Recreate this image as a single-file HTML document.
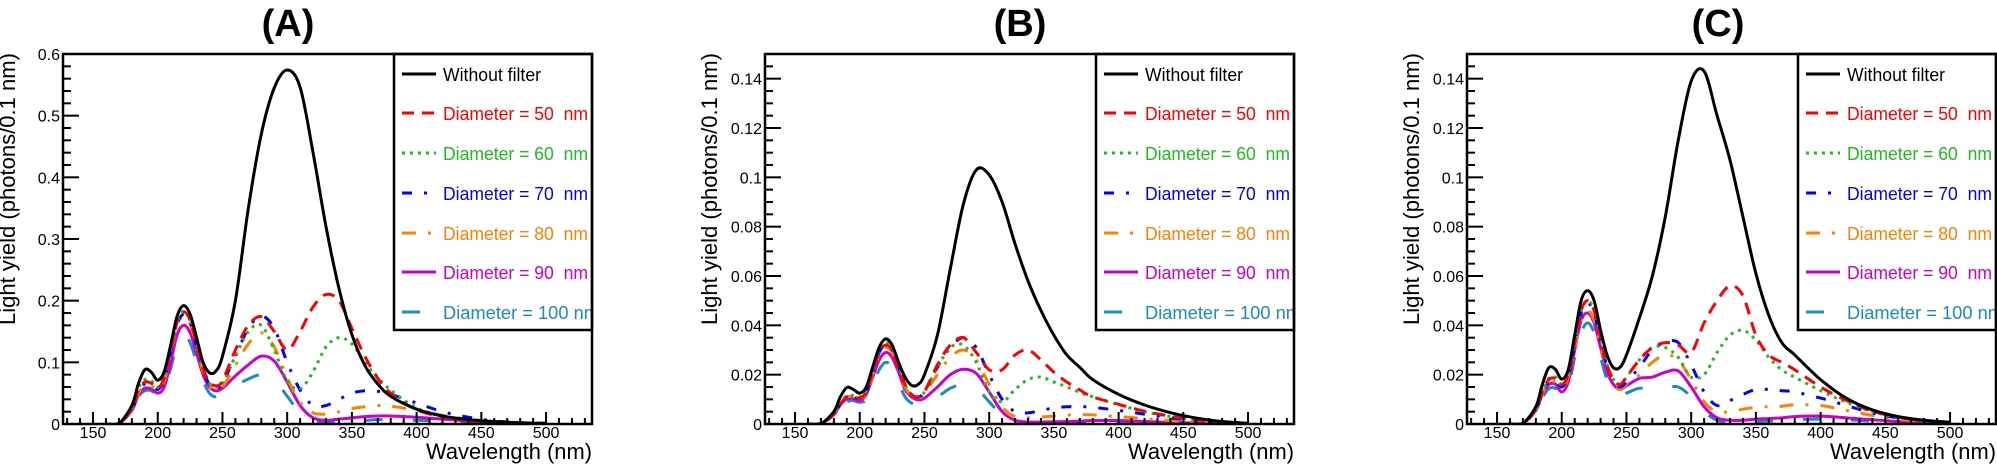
<!DOCTYPE html>
<html><head><meta charset="utf-8"><style>
html,body{margin:0;padding:0;background:#fff;}
svg{display:block;}
text{font-family:"Liberation Sans",Arial,sans-serif;white-space:pre;}
</style></head>
<body>
<svg id="chart" width="1997" height="464" viewBox="0 0 1997 464" xmlns="http://www.w3.org/2000/svg"></svg>
<script>
// ---- data ----
const wavelengths = [160,170,180,185,190,195,200,205,210,215,220,225,230,235,240,245,250,260,270,280,290,300,310,320,330,340,350,360,370,380,400,420,440,460,480,500];
const seriesNames = ["Without filter","Diameter = 50  nm","Diameter = 60  nm","Diameter = 70  nm","Diameter = 80  nm","Diameter = 90  nm","Diameter = 100 nm"];
const panelTitles = ["(A)","(B)","(C)"];
const yMaxes = [0.6, 0.15, 0.15];
const yTickLabelsA = ["0","0.1","0.2","0.3","0.4","0.5","0.6"];
const yTickLabelsBC = ["0","0.02","0.04","0.06","0.08","0.1","0.12","0.14"];
const xTickLabels = ["150","200","250","300","350","400","450","500"];

const panelA_noFilter = [0,0.001,0.03,0.065,0.088,0.084,0.071,0.085,0.128,0.175,0.192,0.178,0.14,0.1,0.083,0.086,0.11,0.2,0.35,0.47,0.545,0.574,0.546,0.44,0.32,0.22,0.145,0.095,0.065,0.045,0.024,0.013,0.007,0.004,0.002,0.001];
const panelA_d50 = [0,0.001,0.025,0.055,0.068,0.066,0.058,0.075,0.12,0.165,0.182,0.168,0.13,0.09,0.068,0.062,0.07,0.12,0.16,0.174,0.15,0.12,0.15,0.19,0.21,0.2,0.155,0.11,0.074,0.05,0.023,0.012,0.0065,0.0035,0.0018,0.001];
const panelA_d60 = [0,0.001,0.026,0.058,0.072,0.07,0.06,0.076,0.12,0.165,0.183,0.168,0.13,0.09,0.066,0.06,0.066,0.11,0.15,0.16,0.12,0.07,0.057,0.085,0.125,0.14,0.13,0.1,0.075,0.055,0.026,0.013,0.007,0.0035,0.0018,0.001];
const panelA_d70 = [0,0.001,0.024,0.052,0.065,0.064,0.056,0.072,0.117,0.162,0.178,0.165,0.127,0.088,0.064,0.058,0.066,0.11,0.155,0.175,0.155,0.1,0.055,0.03,0.03,0.04,0.05,0.054,0.053,0.048,0.034,0.02,0.011,0.005,0.002,0.001];
const panelA_d80 = [0,0.001,0.023,0.05,0.062,0.062,0.055,0.07,0.115,0.16,0.175,0.162,0.125,0.086,0.062,0.056,0.06,0.095,0.13,0.148,0.125,0.075,0.035,0.018,0.016,0.02,0.025,0.028,0.03,0.029,0.022,0.014,0.008,0.004,0.002,0.001];
const panelA_d90 = [0,0.001,0.022,0.047,0.058,0.057,0.05,0.06,0.1,0.145,0.16,0.148,0.115,0.08,0.06,0.054,0.058,0.078,0.096,0.11,0.102,0.068,0.03,0.01,0.006,0.008,0.01,0.012,0.013,0.013,0.011,0.008,0.005,0.003,0.001,0.0005];
const panelA_d100 = [0,0.001,0.02,0.044,0.054,0.054,0.047,0.055,0.09,0.13,0.143,0.132,0.1,0.07,0.05,0.044,0.05,0.062,0.073,0.08,0.072,0.045,0.018,0.005,0.003,0.004,0.005,0.006,0.007,0.007,0.006,0.005,0.003,0.002,0.001,0.0005];

const panelB_noFilter = [0,0.0002,0.005,0.011,0.0148,0.014,0.0125,0.015,0.023,0.031,0.0345,0.032,0.025,0.019,0.0157,0.016,0.02,0.036,0.063,0.089,0.103,0.101,0.09,0.073,0.058,0.046,0.036,0.028,0.023,0.018,0.012,0.0077,0.0046,0.0024,0.001,0.0003];
const panelB_d50 = [0,0.0002,0.004,0.008,0.011,0.011,0.0105,0.013,0.021,0.029,0.032,0.03,0.023,0.016,0.012,0.011,0.013,0.024,0.032,0.035,0.029,0.022,0.022,0.028,0.03,0.026,0.021,0.017,0.0138,0.011,0.008,0.0052,0.0032,0.0017,0.0008,0.0002];
const panelB_d60 = [0,0.0002,0.004,0.0085,0.0115,0.0115,0.011,0.0135,0.022,0.03,0.033,0.031,0.024,0.016,0.012,0.011,0.013,0.023,0.031,0.032,0.025,0.013,0.009,0.014,0.018,0.019,0.017,0.015,0.0128,0.011,0.0078,0.005,0.003,0.0016,0.0007,0.0002];
const panelB_d70 = [0,0.0002,0.004,0.008,0.011,0.011,0.0102,0.0128,0.021,0.029,0.032,0.03,0.023,0.016,0.012,0.011,0.013,0.023,0.031,0.035,0.031,0.02,0.01,0.005,0.0045,0.0055,0.0065,0.007,0.007,0.0068,0.0055,0.004,0.0025,0.0013,0.0006,0.0002];
const panelB_d80 = [0,0.0002,0.004,0.008,0.011,0.011,0.0102,0.0125,0.02,0.028,0.031,0.029,0.022,0.015,0.0115,0.0105,0.0122,0.02,0.027,0.03,0.026,0.016,0.007,0.003,0.0025,0.0028,0.0032,0.0036,0.0038,0.0037,0.003,0.0022,0.0014,0.0008,0.0004,0.0001];
const panelB_d90 = [0,0.0002,0.0038,0.0078,0.0102,0.0102,0.0095,0.012,0.019,0.026,0.029,0.027,0.021,0.014,0.011,0.0098,0.0105,0.015,0.02,0.0222,0.0205,0.013,0.005,0.0015,0.0008,0.0008,0.0009,0.001,0.0012,0.0014,0.0014,0.001,0.0007,0.0004,0.0002,0.0001];
const panelB_d100 = [0,0.0002,0.0035,0.0072,0.009,0.0095,0.0088,0.01,0.016,0.022,0.025,0.023,0.017,0.011,0.0085,0.008,0.0088,0.011,0.0145,0.016,0.0145,0.009,0.0035,0.001,0.0005,0.0005,0.0006,0.0006,0.0007,0.0008,0.0008,0.0007,0.0005,0.0003,0.0002,0.0001];

const panelC_noFilter = [0,0.0003,0.007,0.016,0.0228,0.0222,0.0182,0.022,0.036,0.05,0.054,0.05,0.038,0.028,0.0228,0.023,0.028,0.043,0.06,0.084,0.115,0.139,0.143,0.125,0.107,0.084,0.061,0.044,0.033,0.028,0.018,0.0104,0.0057,0.003,0.0015,0.0007];
const panelC_d50 = [0,0.0003,0.006,0.013,0.018,0.0185,0.016,0.02,0.033,0.046,0.05,0.046,0.035,0.024,0.018,0.016,0.019,0.026,0.031,0.033,0.032,0.029,0.041,0.05,0.056,0.052,0.036,0.028,0.025,0.022,0.015,0.0095,0.0052,0.0028,0.0014,0.0006];
const panelC_d60 = [0,0.0003,0.006,0.013,0.0185,0.019,0.016,0.02,0.033,0.046,0.05,0.046,0.035,0.024,0.018,0.016,0.019,0.026,0.031,0.031,0.027,0.019,0.02,0.029,0.036,0.038,0.034,0.027,0.022,0.019,0.0135,0.0088,0.005,0.0026,0.0013,0.0006];
const panelC_d70 = [0,0.0003,0.0058,0.0125,0.017,0.0175,0.015,0.0195,0.032,0.045,0.049,0.045,0.034,0.023,0.017,0.015,0.017,0.023,0.03,0.033,0.033,0.024,0.013,0.0075,0.0095,0.012,0.014,0.014,0.0135,0.013,0.0105,0.0075,0.0045,0.0024,0.0012,0.0005];
const panelC_d80 = [0,0.0003,0.0057,0.0122,0.017,0.017,0.0145,0.019,0.031,0.042,0.046,0.042,0.032,0.022,0.016,0.014,0.016,0.02,0.025,0.028,0.026,0.018,0.009,0.005,0.005,0.006,0.0068,0.007,0.0072,0.0078,0.0075,0.0055,0.0035,0.002,0.001,0.0004];
const panelC_d90 = [0,0.0003,0.0055,0.012,0.016,0.0162,0.013,0.017,0.03,0.042,0.045,0.041,0.031,0.021,0.016,0.014,0.0155,0.0185,0.019,0.021,0.0215,0.015,0.007,0.0025,0.0015,0.0015,0.002,0.0022,0.0025,0.003,0.0032,0.0025,0.0017,0.001,0.0005,0.0002];
const panelC_d100 = [0,0.0003,0.005,0.0105,0.0143,0.0145,0.012,0.015,0.027,0.037,0.041,0.037,0.027,0.018,0.013,0.0115,0.0125,0.0145,0.0138,0.0145,0.015,0.011,0.005,0.0015,0.0008,0.0008,0.001,0.0012,0.0015,0.0018,0.002,0.0017,0.0012,0.0007,0.0004,0.0002];

const panelSeries = [
  [panelA_noFilter,panelA_d50,panelA_d60,panelA_d70,panelA_d80,panelA_d90,panelA_d100],
  [panelB_noFilter,panelB_d50,panelB_d60,panelB_d70,panelB_d80,panelB_d90,panelB_d100],
  [panelC_noFilter,panelC_d50,panelC_d60,panelC_d70,panelC_d80,panelC_d90,panelC_d100]
];

// ---- styles / layout ----
const colors = ["#000000","#ff0000","#1fbb1f","#0000ff","#ff8000","#cc00cc","#1a8cc0"];
const dashes = ["none","12,8","3,5","10,12,3,12","14,12,3,12","none","18,30"];
const seriesKeys = ["without-filter","diameter-50","diameter-60","diameter-70","diameter-80","diameter-90","diameter-100"];
const panelLefts = [63,765,1467];
const titleOffsets = [225,255,251];
const TOP = 54, W = 529, H = 370, XMIN = 126.8, XMAX = 535.5;
const NS = "http://www.w3.org/2000/svg";
const svg = document.getElementById('chart');

function mk(tag, attrs, parent){
  const e = document.createElementNS(NS, tag);
  for (const k in attrs) e.setAttribute(k, attrs[k]);
  (parent||svg).appendChild(e);
  return e;
}
function smoothPath(pts){
  let d = "M"+pts[0][0].toFixed(2)+","+pts[0][1].toFixed(2);
  for (let i=0;i<pts.length-1;i++){
    const p0=pts[i-1]||pts[i], p1=pts[i], p2=pts[i+1], p3=pts[i+2]||pts[i+1];
    const c1x=p1[0]+(p2[0]-p0[0])/6, c1y=p1[1]+(p2[1]-p0[1])/6;
    const c2x=p2[0]-(p3[0]-p1[0])/6, c2y=p2[1]-(p3[1]-p1[1])/6;
    d += " C"+c1x.toFixed(2)+","+c1y.toFixed(2)+" "+c2x.toFixed(2)+","+c2y.toFixed(2)+" "+p2[0].toFixed(2)+","+p2[1].toFixed(2);
  }
  return d;
}

panelTitles.forEach((title, p) => {
  const L = panelLefts[p], ymax = yMaxes[p];
  const xs = nm => L + (nm - XMIN) / (XMAX - XMIN) * W;
  const ys = v => TOP + H - (v / ymax) * H;
  const g = mk('g', {});
  
  

  const t = mk('text', {x: L + titleOffsets[p], y: 36, 'text-anchor': 'middle', 'font-size': 38, 'font-weight': 'bold'}, g);
  
  
  t.textContent = title;

  const cp = mk('clipPath', {id: 'clip' + p}, g);
  mk('rect', {x: L, y: TOP - 5, width: W, height: H + 5}, cp);

  const cg = mk('g', {'clip-path': 'url(#clip' + p + ')'}, g);
  
  
  for (let s = panelSeries[p].length - 1; s >= 0; s--) {
    const vals = panelSeries[p][s];
    const pts = wavelengths.map((w, i) => [xs(w), ys(vals[i])]);
    const path = mk('path', {d: smoothPath(pts), fill: 'none', stroke: colors[s], 'stroke-width': 3, 'stroke-dasharray': dashes[s], 'stroke-linejoin': 'round'}, cg);
    
    
  }

  for (let nm = 130; nm <= 535; nm += 10) {
    const major = nm % 50 === 0;
    mk('line', {x1: xs(nm), x2: xs(nm), y1: TOP + H, y2: TOP + H - (major ? 12 : 6), stroke: '#000', 'stroke-width': 2}, g);
  }
  xTickLabels.forEach(lbl => {
    const tl = mk('text', {x: xs(+lbl), y: 438, 'text-anchor': 'middle', 'font-size': 16}, g);
    
    
    tl.textContent = lbl;
  });
  const yLabels = p === 0 ? yTickLabelsA : yTickLabelsBC;
  const majorStep = p === 0 ? 0.1 : 0.02, minorStep = p === 0 ? 0.02 : 0.005;
  const nMinor = Math.round(ymax / minorStep);
  for (let i = 0; i <= nMinor; i++) {
    const v = i * minorStep;
    const major = Math.abs(v / majorStep - Math.round(v / majorStep)) < 1e-6;
    mk('line', {x1: L, x2: L + (major ? 16 : 8), y1: ys(v), y2: ys(v), stroke: '#000', 'stroke-width': 2}, g);
  }
  yLabels.forEach(lbl => {
    const tl = mk('text', {x: L - 3, y: ys(+lbl) + 6, 'text-anchor': 'end', 'font-size': 16}, g);
    
    
    tl.textContent = lbl;
  });

  const lg = mk('g', {}, g);
  
  
  const LX = L + 331, LW = W - 331, LB = 330;
  mk('rect', {x: LX, y: TOP, width: LW, height: LB - TOP, fill: '#fff'}, lg);
  const lcp = mk('clipPath', {id: 'lclip' + p}, lg);
  mk('rect', {x: LX, y: TOP, width: LW, height: LB - TOP}, lcp);
  const rowY = [74, 113, 153, 193, 233, 272, 312];
  seriesNames.forEach((name, s) => {
    const e = mk('g', {'clip-path': 'url(#lclip' + p + ')'}, lg);
    
    
    mk('line', {x1: LX + 8, x2: LX + 42, y1: rowY[s], y2: rowY[s], stroke: colors[s], 'stroke-width': 3, 'stroke-dasharray': dashes[s]}, e);
    const tx = mk('text', {x: LX + 49, y: rowY[s] + 7, 'font-size': 18, fill: colors[s], textLength: s === 0 ? 98 : (s === 6 ? 156 : 145), lengthAdjust: 'spacingAndGlyphs'}, e);
    tx.textContent = name;
  });
  mk('rect', {x: LX, y: TOP, width: LW, height: LB - TOP, fill: 'none', stroke: '#000', 'stroke-width': 2.5}, lg);

  const fr = mk('rect', {x: L, y: TOP, width: W, height: H, fill: 'none', stroke: '#000', 'stroke-width': 2.5}, g);
  
  

  const xt = mk('text', {x: L + W, y: 459, 'text-anchor': 'end', 'font-size': 22, textLength: 166, lengthAdjust: 'spacingAndGlyphs'}, g);
  
  
  xt.textContent = 'Wavelength (nm)';
  const yt = mk('text', {x: 0, y: 0, 'text-anchor': 'end', 'font-size': 22, textLength: 272, lengthAdjust: 'spacingAndGlyphs', transform: 'translate(' + (L - 48) + ',53) rotate(-90)'}, g);
  
  
  yt.textContent = 'Light yield (photons/0.1 nm)';
});
</script>
</body></html>
